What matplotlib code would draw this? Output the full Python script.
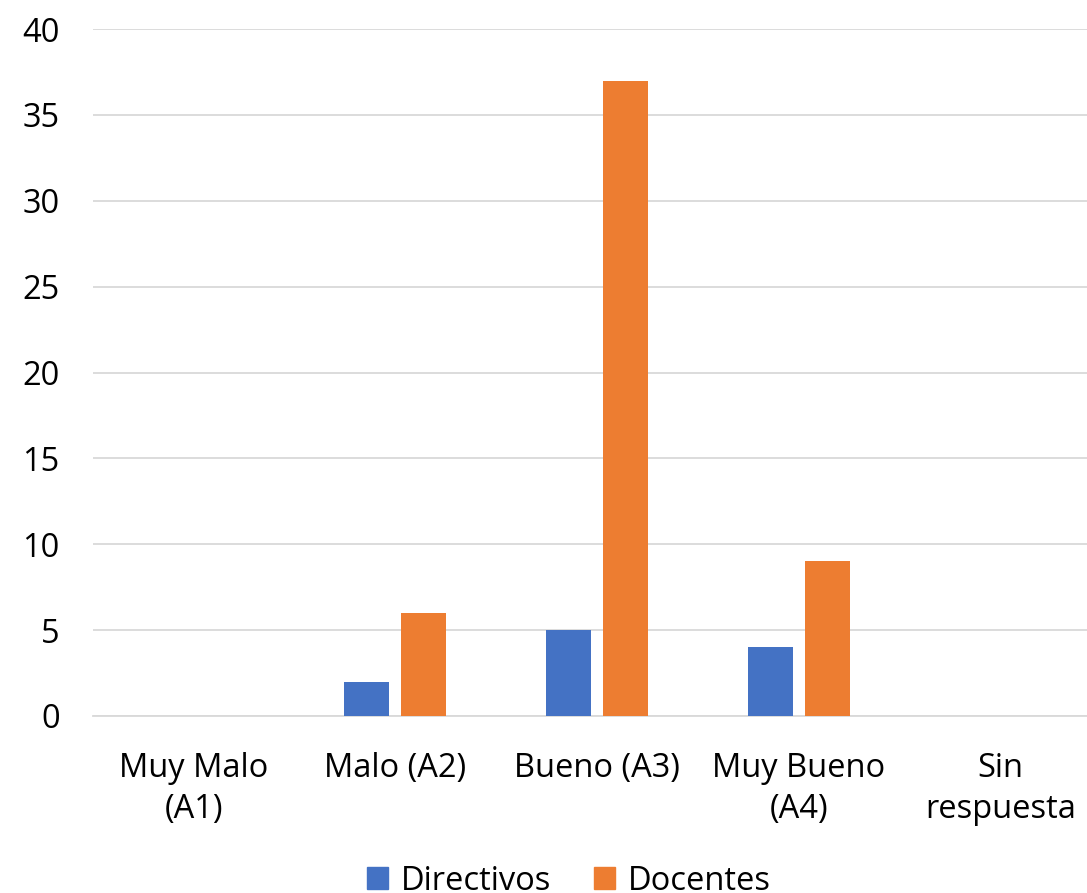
import matplotlib
matplotlib.use("Agg")
import matplotlib.pyplot as plt
import numpy as np
from matplotlib.patches import Patch

categories = ["Muy Malo\n(A1)", "Malo (A2)", "Bueno (A3)", "Muy Bueno\n(A4)", "Sin\nrespuesta"]
directivos = [0, 2, 5, 4, 0]
docentes = [0, 6, 37, 9, 0]
series_names = ["Directivos", "Docentes"]
colors = ["#4472C4", "#ED7D31"]

plt.rcParams['font.family'] = ['Open Sans', 'DejaVu Sans']

fig = plt.figure(figsize=(10.87, 8.93), dpi=100)
left = 93 / 1087
right_px = 1101
bottom = 1 - 716 / 893
top = 1 - 29 / 893
ax = fig.add_axes([left, bottom, (right_px - 93) / 1087, top - bottom])

x = np.arange(len(categories))
w = 0.223
off = 0.141
ax.bar(x - off, directivos, w, color=colors[0], zorder=3)
ax.bar(x + off, docentes, w, color=colors[1], zorder=3)

ax.set_xlim(-0.5, len(categories) - 0.5)
ax.set_ylim(0, 40)
ax.set_yticks(range(0, 41, 5))
ax.yaxis.grid(True, color="#D9D9D9", linewidth=1.3, zorder=0)
ax.set_axisbelow(True)
for s in ["top", "right", "left"]:
    ax.spines[s].set_visible(False)
ax.spines["bottom"].set_color("#D9D9D9")
ax.spines["bottom"].set_linewidth(1.3)
ax.set_xticks(x)
ax.set_xticklabels(categories, linespacing=1.32)
ax.tick_params(axis="both", length=0, labelsize=23.5, colors="#000000")
ax.tick_params(axis="y", pad=24)
ax.tick_params(axis="x", pad=26)

handles = [Patch(color=colors[0]), Patch(color=colors[1])]
fig.legend(handles, series_names, loc="center", bbox_to_anchor=(569 / 1087, 1 - 881 / 893),
           ncol=2, frameon=False, fontsize=23.5, handlelength=0.62, handleheight=0.62,
           handletextpad=0.4, columnspacing=1.33)

fig.savefig("out.png", dpi=100)
